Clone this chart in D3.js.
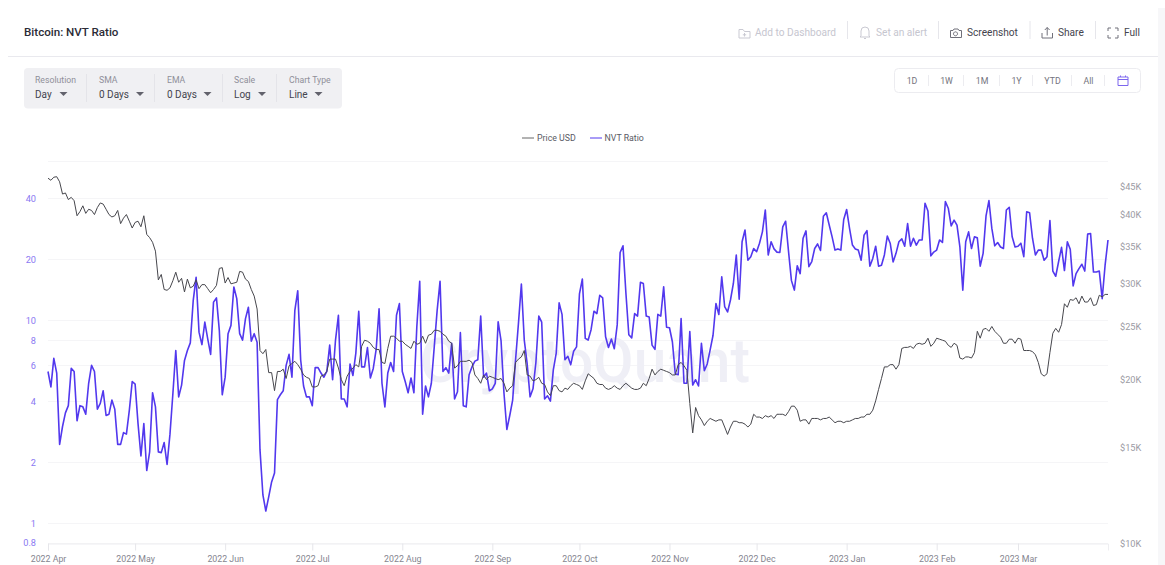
<!DOCTYPE html>
<html><head><meta charset="utf-8">
<script src="https://cdn.jsdelivr.net/npm/d3@7"></script>
<style>
html,body{margin:0;padding:0;background:#fff;overflow:hidden}
svg{display:block}
text{font-family:Roboto,sans-serif}
</style></head><body><svg id="c" width="1165" height="565"></svg>
<script>
const startDate = "2022-04-01";
const nvtRatio = [5.6,4.7,6.5,5.5,2.45,3.0,3.5,3.8,5.8,5.6,3.2,3.8,3.75,3.45,4.9,6.0,5.6,3.65,3.9,4.5,3.4,3.45,4.05,3.65,2.45,2.45,2.8,2.75,3.6,5.0,
4.85,3.1,2.15,3.1,1.82,2.25,4.4,3.75,2.25,2.23,2.5,1.95,2.75,4.35,7.1,4.2,4.8,6.35,7.1,7.75,12.5,16.3,8.75,7.6,9.8,8.1,6.8,12.3,12.9,8.9,4.3,
5.25,8.6,9.45,14.6,12.8,8.6,8.0,10.2,11.6,7.9,8.6,7.8,2.3,1.38,1.15,1.35,1.6,1.77,4.07,4.3,4.5,6.0,6.8,5.25,11.2,14,6.4,4.75,4.2,4.2,
3.8,5.85,5.85,5.5,5.25,5.6,7.55,5.1,8,10.6,4.1,4.1,3.75,6.1,5.35,6.9,11.1,5.9,5.9,7.35,5.2,5.8,7.2,11.4,4.9,3.75,5.5,6.2,5.6,10.6,12.1,
5.6,5,4.4,5.2,4.4,9.3,15.6,3.45,4.75,4.2,4.9,7.4,11.2,15.6,5.6,5.85,5.5,7.7,4.1,4.45,8.7,3.8,3.75,5.4,5.9,6.3,6.4,10.5,5.25,5.5,4.5,
4.6,4.9,9.85,7.95,4.4,2.9,3.4,4.05,6.4,9.7,15.1,8,6.1,4.2,4.6,6.2,10.5,9.8,4.1,4.25,4.0,5.7,6.9,12.2,10.7,6.4,6.65,6.05,7.05,7.4,
13.5,16,8.15,8,9.0,11.1,10.8,13.3,12.9,8.3,7.35,8.1,7.25,9.5,21.6,23.3,13.6,8.5,8.2,10.8,10.5,15.4,15.2,10.5,10.4,7.55,7.2,10.7,10.5,14.65,9.25,
9.2,7.85,5.45,5.4,10.2,4.9,4.9,8.8,4.8,5.1,4.75,7.7,5.65,6.1,7.15,8.45,12.1,10.7,16.4,11.7,11,12.6,15.2,21,12.7,24.4,27.9,19.8,20.6,22.6,
21.8,24,27.3,35,21,24.4,22.5,21.7,21.6,28.9,30.8,21.8,15.7,14.1,18.6,17,25.4,27.6,18.4,19.5,22.6,23.8,22.1,32.6,33.9,29.5,25.8,22.2,22.5,22.2,31.4,
35.2,28.4,23.5,22.5,22.2,19.8,26.3,27.7,18.5,20.2,23.2,18.5,18.7,21,26,24,19.4,21.4,24.4,25.2,23.2,30,23.2,25.4,23.5,24.9,24.9,37.8,34.6,20.8,21.7,
22.2,24.9,24.2,38.5,35.7,29.2,31.2,29.5,23,14.1,24.4,27.3,22.6,25.8,25.5,18.5,21.4,32.7,38.9,28.4,23.3,24.2,23,22.6,35,36.1,25.8,23,
23.2,24,20.6,34.3,33.9,25.4,21,22.2,22.2,19.8,20.6,31,17.5,16.5,19.5,22.9,17.6,24.4,22.4,14.8,17,18,18.9,17.5,26.6,26.8,17.3,17.3,17.5,12.8,18.7,24.9];
const priceUsdK = [46.5,46.1,46.7,46.8,45.8,43.5,43.7,42.5,42.9,42.3,39.7,40.4,41.4,40.1,40.8,40.6,39.9,41.1,41.9,41.7,40.8,39.9,39.5,39.7,40.6,38.4,39.3,39.9,38.8,37.7,
38.6,38.8,37.9,39.7,36.7,36.2,35.5,34.2,30.3,31.0,29.1,29.0,29.3,30.2,31.3,30.0,30.5,28.8,30.4,29.3,29.5,30.3,29.2,29.7,29.7,29.2,28.7,29.1,29.6,31.8,31.9,
29.9,30.6,29.8,29.9,30.0,31.4,31.3,30.4,30.1,29.1,28.3,26.8,22.5,22.2,22.6,20.5,20.5,19.0,20.6,20.6,20.8,20.0,21.1,21.3,21.5,21.2,20.8,20.3,20.1,20.0,
19.3,19.3,19.4,20.2,20.3,20.6,21.7,21.7,21.7,20.9,19.9,19.4,20.2,20.6,20.9,21.2,21.0,22.9,23.5,23.4,23.2,22.8,22.6,22.6,21.4,21.3,22.7,23.9,23.9,23.7,23.4,
23.4,23.1,22.9,22.7,23.4,23.1,23.2,23.9,23.2,24.0,24.1,24.5,24.5,24.4,24.1,23.9,23.4,23.2,20.9,21.1,21.5,21.5,21.5,21.6,21.4,20.3,20.0,19.6,20.3,19.9,20.2,
20.1,20.0,19.9,20.0,19.6,18.9,19.2,19.4,21.4,21.7,21.9,22.5,20.3,20.2,19.8,19.9,20.1,19.6,19.5,18.9,18.6,19.4,19.4,19.0,18.9,19.2,19.1,19.4,19.6,19.5,
19.4,19.1,19.8,20.4,20.2,20.0,19.6,19.5,19.5,19.2,19.1,19.2,19.4,19.2,19.1,19.4,19.6,19.4,19.2,19.1,19.1,19.2,19.6,19.4,20.0,20.8,20.3,20.6,20.8,20.7,20.6,
20.5,20.3,20.3,21.2,21.4,21.1,20.7,18.0,15.9,17.7,17.1,16.8,16.4,16.7,16.9,16.8,16.7,16.8,16.8,16.3,15.8,16.3,16.7,16.7,16.6,16.6,16.5,16.3,16.5,17.2,
17.0,17.0,16.9,17.1,17.0,17.1,16.9,17.2,17.2,17.2,17.1,17.4,17.8,17.8,17.5,16.7,16.8,16.8,16.5,16.9,16.9,16.9,16.8,16.9,16.9,17.0,16.8,16.6,16.7,16.7,16.6,
16.7,16.7,16.8,16.9,16.9,17.0,17.0,17.2,17.2,17.5,18.2,19.1,20.0,21.0,21.0,21.2,21.2,20.8,21.2,22.7,22.8,22.8,22.9,22.7,23.1,23.2,23.1,23.2,23.7,22.9,23.2,
23.7,23.6,23.5,23.4,23.0,22.8,23.2,23.0,21.8,21.7,21.9,21.9,21.8,22.3,24.4,23.7,24.6,24.7,24.4,24.9,24.4,24.1,23.8,23.2,23.2,23.6,23.6,23.2,
23.7,23.6,22.5,22.5,22.5,22.4,22.1,21.4,20.4,20.2,20.4,22.3,24.2,24.7,24.3,25.1,27.4,27.0,27.9,27.8,28.1,27.4,28.3,27.6,27.6,28.1,27.2,27.3,28.4,28.2,28.5,28.5];
const leftTicks = [0.8,1,2,4,6,8,10,20,40];
const leftGridOnly = [61];
const rightTicks = [10,15,20,25,30,35,40,45];
const monthTicks = ["2022-04-01","2022-05-01","2022-06-01","2022-07-01","2022-08-01","2022-09-01","2022-10-01","2022-11-01","2022-12-01","2023-01-01","2023-02-01","2023-03-01"];
const seriesNames = ["Price USD","NVT Ratio"];
const controlLabels = ["Resolution","SMA","EMA","Scale","Chart Type"];
const controlValues = ["Day","0 Days","0 Days","Log","Line"];
const rangeLabels = ["1D","1W","1M","1Y","YTD","All"];
const title = "Bitcoin: NVT Ratio";

const svg = d3.select("#c");
const parse = d3.utcParse("%Y-%m-%d");
const t0 = parse(startDate);
const dates = nvtRatio.map((_,i)=>d3.utcDay.offset(t0,i));

const x = d3.scaleUtc().domain([t0, dates[dates.length-1]]).range([48,1108]);
const yL = d3.scaleLog().domain([0.8,61]).range([543,161]);
const yR = d3.scaleLog().domain([10,50]).range([543,161]);

const PURPLE="#5238ee", GRID="#f5f5f7", GREY="#9b9ba4";

// page chrome
svg.append("rect").attr("x",1158).attr("y",8).attr("width",7).attr("height",557).attr("fill","#f7f7f9");
svg.append("line").attr("x1",8).attr("x2",1158).attr("y1",56.5).attr("y2",56.5).attr("stroke","#e9e9ee");
svg.append("text").attr("x",24).attr("y",36).attr("font-size",11.6).attr("font-weight",500).attr("fill","#2b2b36").text(title);

// header actions
const hdr=svg.append("g").attr("font-size",10.15);
[["Add to Dashboard",755,"#c6c6cf"],["Set an alert",876,"#c6c6cf"],["Screenshot",967,"#44444e"],["Share",1058,"#44444e"],["Full",1124,"#44444e"]]
 .forEach(d=>hdr.append("text").attr("x",d[1]).attr("y",36).attr("fill",d[2]).text(d[0]));
[847.5,938.5,1030,1095.5].forEach(v=>hdr.append("line").attr("x1",v).attr("x2",v).attr("y1",21).attr("y2",39).attr("stroke","#e6e6eb"));
const ic=svg.append("g").attr("fill","none").attr("stroke-width",1);
ic.append("path").attr("stroke","#c9c9d2").attr("d","M739 29.5h4l1.5 2h5.5v6.5h-11zM744.5 33v3.5M742.8 34.8h3.4");
ic.append("path").attr("stroke","#c9c9d2").attr("d","M861 36v-5a4 4 0 0 1 8 0v5l1 1h-10zM864 38.5h2");
ic.append("path").attr("stroke","#70707a").attr("d","M950.5 30.5h2.5l1-1.5h4l1 1.5h2.5v7h-11zM955.5 31.8a2 2 0 1 0 .01 0");
ic.append("path").attr("stroke","#70707a").attr("d","M1042 33v5h10.5v-5M1047.2 35.5v-8M1044.8 30l2.4-2.5 2.4 2.5");
ic.append("path").attr("stroke","#70707a").attr("d","M1108 31v-3h3M1115 28h3v3M1118 35v3h-3M1111 38h-3v-3");

// controls panel
svg.append("rect").attr("x",24).attr("y",68).attr("width",318).attr("height",40.5).attr("rx",4).attr("fill","#f0f0f3");
const ctlX=[35,99,167,234,289], sepX=[86.5,154.5,222.5,276.5], caretX=[63.5,140,207.5,262,318.5];
controlLabels.forEach((l,i)=>{
  svg.append("text").attr("x",ctlX[i]).attr("y",83).attr("font-size",8.7).attr("fill","#8f8f99").text(l);
  svg.append("text").attr("x",ctlX[i]).attr("y",97.5).attr("font-size",10).attr("fill","#44444e").text(controlValues[i]);
  svg.append("path").attr("d",`M${caretX[i]-4} 92l4 4 4-4z`).attr("fill","#62626c");
});
sepX.forEach(v=>svg.append("line").attr("x1",v).attr("x2",v).attr("y1",74).attr("y2",102).attr("stroke","#e4e4e9"));

// range buttons
svg.append("rect").attr("x",894.5).attr("y",68.5).attr("width",246).attr("height",24).attr("rx",4).attr("fill","#fff").attr("stroke","#ececf0");
const rX=[912,946.5,982,1016.5,1052.5,1088.5];
rangeLabels.forEach((l,i)=>svg.append("text").attr("x",rX[i]).attr("y",84).attr("text-anchor","middle").attr("font-size",8.8).attr("fill","#74747e").text(l));
[928.5,963.5,999.5,1032.5,1071.5,1104.5].forEach(v=>svg.append("line").attr("x1",v).attr("x2",v).attr("y1",75).attr("y2",86).attr("stroke","#ececf0"));
svg.append("path").attr("fill","none").attr("stroke","#7c66ee").attr("d","M1118 77h10v8.5h-10zM1118 79.5h10M1120.5 75.5v1.5M1125.5 75.5v1.5");

// legend
const lg=svg.append("g").attr("font-size",8.8).attr("fill","#5a5a64");
lg.append("line").attr("x1",522).attr("x2",534).attr("y1",138).attr("y2",138).attr("stroke","#666").attr("stroke-width",1);
lg.append("text").attr("x",537).attr("y",141).text(seriesNames[0]);
lg.append("line").attr("x1",590).attr("x2",602).attr("y1",138).attr("y2",138).attr("stroke",PURPLE).attr("stroke-width",1);
lg.append("text").attr("x",604.5).attr("y",141).text(seriesNames[1]);

// grid
const gridVals = leftTicks.concat(leftGridOnly);
svg.append("g").selectAll("line").data(gridVals).join("line")
 .attr("x1",48).attr("x2",1108).attr("y1",d=>Math.round(yL(d))+.5).attr("y2",d=>Math.round(yL(d))+.5)
 .attr("stroke",GRID);

// watermark
svg.append("text").attr("x",585).attr("y",382).attr("text-anchor","middle").attr("font-size",62).attr("font-weight",500).attr("fill","#efeff6").attr("textLength",330).attr("lengthAdjust","spacingAndGlyphs").text("CryptoQuant");

// left axis
const axL=d3.axisLeft(yL).tickValues(leftTicks).tickSize(0).tickFormat(d3.format("~g"));
const gL=svg.append("g").attr("transform","translate(36,0)").call(axL);
gL.select(".domain").remove();
gL.selectAll("text").attr("font-size",9.2).attr("fill","#8a78f2").attr("font-family","Roboto,sans-serif").attr("x",0);

// right axis
const axR=d3.axisRight(yR).tickValues(rightTicks).tickSize(0).tickFormat(d=>"$"+d+"K");
const gR=svg.append("g").attr("transform","translate(1120,1)").call(axR);
gR.select(".domain").remove();
gR.selectAll("text").attr("font-size",9.2).attr("fill",GREY).attr("font-family","Roboto,sans-serif").attr("x",0);

// bottom axis
const axB=d3.axisBottom(x).tickValues(monthTicks.map(parse)).tickSize(7).tickPadding(5).tickFormat(d3.utcFormat("%Y %b"));
const gB=svg.append("g").attr("transform","translate(0,543.5)").call(axB);
gB.select(".domain").attr("stroke","#eeeef1");
gB.selectAll(".tick line").attr("stroke","#e6e6ea");
gB.selectAll("text").attr("font-size",8.8).attr("fill","#85858f").attr("font-family","Roboto,sans-serif");

// series
const lineN=d3.line().x((d,i)=>x(dates[i])).y(d=>yL(d));
const lineP=d3.line().x((d,i)=>x(dates[i])).y(d=>yR(d));
svg.append("path").datum(nvtRatio).attr("d",lineN).attr("fill","none").attr("stroke",PURPLE).attr("stroke-width",1.6).attr("stroke-linejoin","round");
svg.append("path").datum(priceUsdK).attr("d",lineP).attr("fill","none").attr("stroke","#47474d").attr("stroke-width",1).attr("stroke-linejoin","round");
</script></body></html>
